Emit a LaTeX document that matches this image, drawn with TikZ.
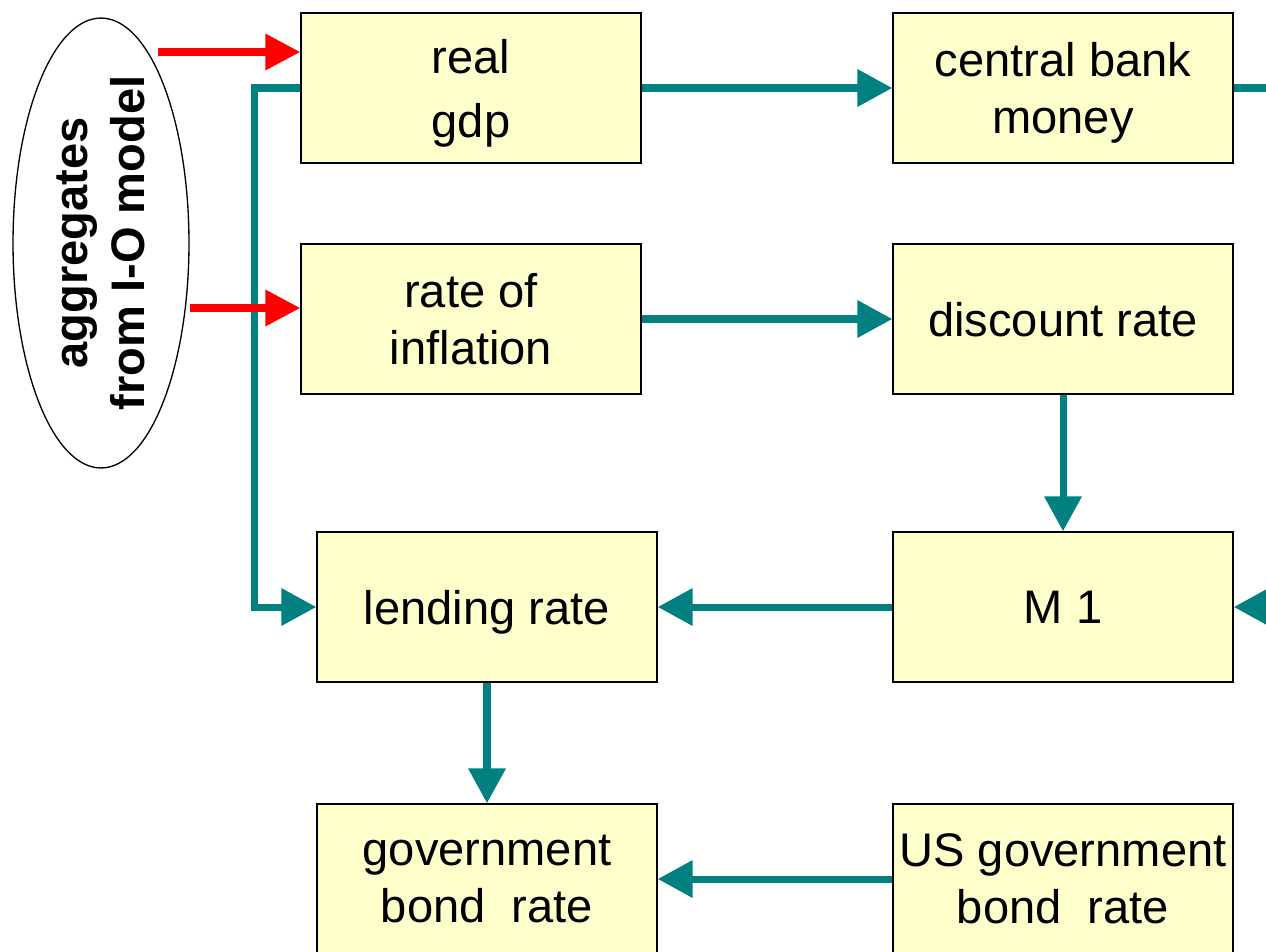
\documentclass[tikz,border=0pt]{standalone}
\usepackage{fontspec}
\setmainfont{Liberation Sans}
\usetikzlibrary{arrows.meta,shapes.geometric,calc}
\definecolor{BoxClr}{rgb}{1,1,0.8}
\definecolor{FlowClr}{rgb}{0,0.5019607843137255,0.5019607843137255}
\definecolor{InClr}{rgb}{1,0,0}
\tikzset{
  box/.style={draw=black,line width=0.85pt,fill=BoxClr,minimum width=6.8cm,minimum height=3cm,
    inner sep=0pt,text depth=0pt,align=center,font=\fontsize{26.8}{32.4}\selectfont},
  flow/.style={draw=FlowClr,line width=4pt,-{Triangle[length=0.7cm,width=0.72cm]}},
  inflow/.style={draw=InClr,line width=4pt,-{Triangle[length=0.7cm,width=0.7cm]}}
}

\begin{document}
\begin{tikzpicture}[x=0.02cm,y=-0.02cm]
\useasboundingbox (0,0) rectangle (1266,951);
\clip (0,0) rectangle (1266,951);

\node[box] (gdp) at (471,88) {real\\[4pt]gdp};
\node[box] (cbm) at (1063,88) {central bank\\money};
\node[box] (infl) at (471,319) {rate of\\inflation};
\node[box] (disc) at (1063,319) {discount rate};
\node[box] (lend) at (487,607) {lending rate};
\node[box] (m1) at (1063,607) {M 1};
\node[box] (gbr) at (487,879) {government\\bond\ \ rate};
\node[box] (usgbr) at (1063,879) {US government\\bond\ \ rate};

\node[draw=black,ellipse,line width=0.75pt,rotate=90,minimum width=9cm,minimum height=3.52cm,
  inner xsep=-0.3cm,inner ysep=0pt,align=center,font=\bfseries\fontsize{26.8}{32.4}\selectfont]
  (io) at (101,243) {aggregates\\from I-O model};

% Teal links between the boxes.
\draw[flow] (gdp) -- (cbm);
\draw[flow] (gdp.west) -- ++(-46,0) |- (lend.west);
\draw[FlowClr,line width=4pt] (cbm.east) -- ++(60,0);
\draw[flow] (infl) -- (disc);
\draw[flow] (disc) -- (m1);
\draw[flow] (m1) -- (lend);
\draw[flow] (lend) -- (gbr);
\draw[flow] (usgbr) -- (gbr);
\coordinate (m1in) at (1300,607);
\draw[flow] (m1in) -- (m1);

% Inputs from the I-O model.
\coordinate (in1) at (158,52);
\coordinate (in2) at (190,308);
\draw[inflow] (in1) -- (in1 -| gdp.west);
\draw[inflow] (in2) -- (in2 -| infl.west);

\end{tikzpicture}
\end{document}
